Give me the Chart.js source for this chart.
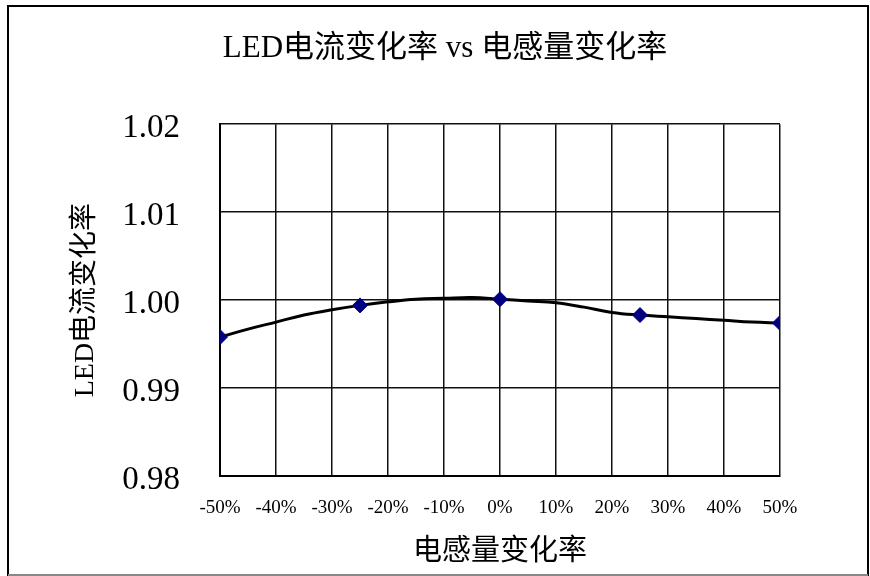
<!DOCTYPE html>
<html>
<head>
<meta charset="utf-8">
<script src="https://cdn.jsdelivr.net/npm/chart.js@4"></script>
<style>
  html, body { margin: 0; padding: 0; background: #fff; }
  #wrap { position: relative; width: 870px; height: 576px; }
</style>
</head>
<body>
<div id="wrap"><canvas id="c" width="870" height="576"></canvas></div>
<script>
// Smoothed response curve: inductance change (%) vs relative LED current
const curveX = [-50, -45, -40, -35, -30, -25, -20, -15, -10, -5, 0, 5, 10, 15, 20, 25, 30, 35, 40, 45, 50];
const curveY = [0.9958, 0.9967, 0.9975, 0.9983, 0.9989, 0.9994, 0.9998, 1.0001, 1.0002, 1.0003, 1.0001,
                0.9999, 0.9997, 0.9992, 0.9986, 0.9983, 0.9981, 0.9979, 0.9977, 0.9975, 0.9974];

// Measured points (diamond markers)
const markerX = [-50, -25, 0, 25, 50];
const markerY = [0.9958, 0.9994, 1.0001, 0.9983, 0.9974];

// Axis ticks
const xTicks = [-50, -40, -30, -20, -10, 0, 10, 20, 30, 40, 50];
const yTicks = [0.98, 0.99, 1.00, 1.01, 1.02];

const titleText = 'LED电流变化率 vs 电感量变化率';
const xTitle = '电感量变化率';
const yTitle = 'LED电流变化率';

const FONT = "'Liberation Serif', 'Noto Sans CJK SC', serif";

// outer border of the chart sheet
const framePlugin = {
  id: 'frame',
  afterDraw(chart) {
    const ctx = chart.ctx;
    ctx.save();
    ctx.strokeStyle = '#000';
    ctx.lineWidth = 2;
    ctx.beginPath();
    ctx.moveTo(8, 576);
    ctx.lineTo(8, 6);
    ctx.lineTo(868, 6);
    ctx.lineTo(868, 576);
    ctx.stroke();
    ctx.strokeStyle = '#888';
    ctx.beginPath();
    ctx.moveTo(8, 575);
    ctx.lineTo(868, 575);
    ctx.stroke();
    ctx.restore();
  }
};

new Chart(document.getElementById('c'), {
  type: 'line',
  data: {
    datasets: [
      {
        data: curveX.map((x, i) => ({ x, y: curveY[i] })),
        borderColor: '#000',
        borderWidth: 3,
        pointRadius: 0,
        tension: 0.4,
        fill: false,
        order: 2
      },
      {
        data: markerX.map((x, i) => ({ x, y: markerY[i] })),
        showLine: false,
        pointStyle: 'rectRot',
        pointRadius: 7.5,
        pointBackgroundColor: '#000080',
        pointBorderColor: '#000080',
        pointBorderWidth: 1,
        order: 1
      }
    ]
  },
  options: {
    responsive: false,
    animation: false,
    events: [],
    layout: { padding: { left: 20, right: 0, top: 0, bottom: 0 } },
    plugins: {
      legend: { display: false },
      tooltip: { enabled: false },
      title: {
        display: true,
        text: titleText,
        color: '#000',
        font: { family: FONT, size: 31, weight: 'normal', lineHeight: 1.2 },
        padding: { top: 30, bottom: 57 }
      }
    },
    scales: {
      x: {
        type: 'linear',
        min: -50,
        max: 50,
        afterBuildTicks(scale) { scale.ticks = xTicks.map(v => ({ value: v })); },
        afterFit(scale) { scale.height = 100; },
        grid: { color: '#111', lineWidth: 1.5, drawTicks: false },
        border: { color: '#000', width: 2 },
        ticks: {
          color: '#000',
          padding: 21,
          maxRotation: 0,
          autoSkip: false,
          font: { family: FONT, size: 19 },
          callback: v => v + '%'
        },
        title: {
          display: true,
          text: xTitle,
          color: '#000',
          font: { family: FONT, size: 29, lineHeight: 1.2 },
          padding: { top: 0, bottom: 6 }
        }
      },
      y: {
        min: 0.98,
        max: 1.02,
        afterBuildTicks(scale) { scale.ticks = yTicks.map(v => ({ value: v })); },
        afterFit(scale) { scale.width = 200; },
        grid: { color: '#111', lineWidth: 1.5, drawTicks: false },
        border: { color: '#000', width: 2 },
        ticks: {
          color: '#000',
          padding: 40,
          labelOffset: 4,
          font: { family: FONT, size: 33 },
          callback: v => Number(v).toFixed(2)
        },
        title: {
          display: true,
          text: yTitle,
          color: '#000',
          font: { family: FONT, size: 28, lineHeight: 1.2 },
          padding: { top: 49, bottom: 0 }
        }
      },
      // empty right-hand strip that keeps the plot area clear of the sheet edge
      yRight: {
        position: 'right',
        display: true,
        grid: { display: false, drawTicks: false },
        border: { display: false },
        ticks: { display: false },
        afterFit(scale) { scale.width = 90; }
      }
    }
  },
  plugins: [framePlugin]
});
</script>
</body>
</html>
